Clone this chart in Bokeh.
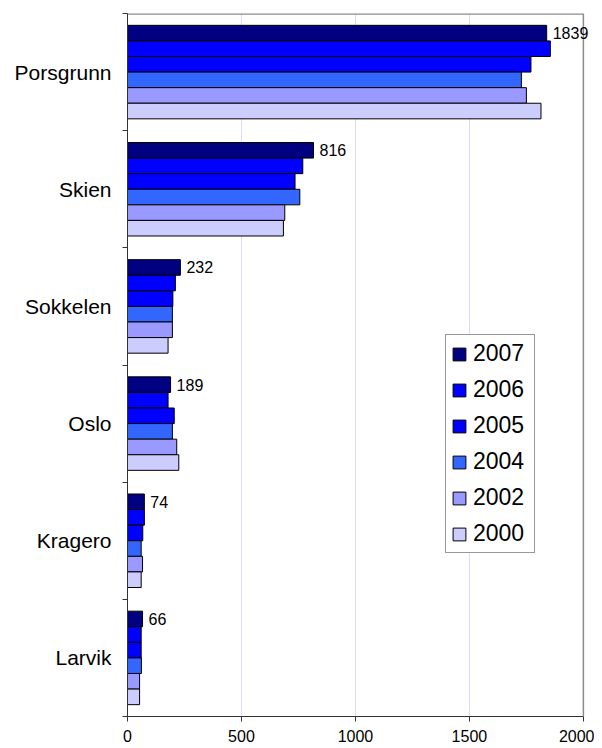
from bokeh.plotting import figure
from bokeh.models import ColumnDataSource, FixedTicker, Legend, LegendItem, Range1d, Label, Span
from bokeh.transform import dodge
from bokeh.embed import file_html
from bokeh.resources import INLINE

# ---- data ----
categories = ["Porsgrunn", "Skien", "Sokkelen", "Oslo", "Kragero", "Larvik"]
years = ["2007", "2006", "2005", "2004", "2002", "2000"]
v2007 = [1839, 816, 232, 189, 74, 66]
v2006 = [1855, 769, 210, 178, 74, 60]
v2005 = [1770, 735, 199, 205, 67, 60]
v2004 = [1728, 756, 197, 197, 60, 61]
v2002 = [1750, 690, 197, 216, 66, 53]
v2000 = [1814, 684, 178, 225, 60, 53]
x_ticks = [0, 500, 1000, 1500, 2000]

series = {"2007": v2007, "2006": v2006, "2005": v2005,
          "2004": v2004, "2002": v2002, "2000": v2000}
colors = {"2007": "#000080", "2006": "#0000FF", "2005": "#0000FF",
          "2004": "#3366FF", "2002": "#9999FF", "2000": "#CCCCFF"}

n = len(categories)
pos = [n - 0.5 - i for i in range(n)]  # category centres, first category on top
x_max = x_ticks[-1]

h = 0.133
data = dict(pos=pos, cat=categories)
for yr in years:
    data["v" + yr] = series[yr]
source = ColumnDataSource(data)

FONT = "Liberation Sans"

# the frame is a little wider than the axis (0..2000) so that the "1839"
# label is not clipped; the plot border at 2000 is drawn explicitly
p = figure(width=594, height=746, output_backend="svg", toolbar_location=None,
           x_range=Range1d(0, 2040), y_range=Range1d(0, n),
           min_border_left=127, min_border_right=2, min_border_top=13,
           min_border_bottom=30)
p.outline_line_color = None

# plot-area border (top and right) in grey
p.segment(x0=[0], x1=[x_max], y0=[n], y1=[n], line_color="#8C8C8C", line_width=2.5)
p.add_layout(Span(location=x_max, dimension="height", line_color="#8C8C8C",
                  line_width=1.5))

items = []
for k, yr in enumerate(years):
    off = (2.5 - k) * h
    r = p.hbar(y=dodge("pos", off), left=0, right="v" + yr, height=h,
               source=source, fill_color=colors[yr], line_color="black",
               line_width=1)
    items.append(LegendItem(label=yr, renderers=[r]))

# value labels on the 2007 bars
for v, c in zip(v2007, pos):
    p.add_layout(Label(x=v, y=c + 2.5 * h, text=str(v), x_offset=6,
                       text_baseline="middle", text_align="left",
                       text_font=FONT, text_font_size="16px",
                       text_color="black"))

# axes
p.xaxis.ticker = FixedTicker(ticks=x_ticks)
p.xaxis.bounds = (0, x_max)
p.xaxis.major_tick_out = 5
p.xaxis.major_tick_in = 0
p.xaxis.minor_tick_line_color = None
p.xaxis.major_label_text_font = FONT
p.xaxis.major_label_text_font_size = "16px"
p.xaxis.major_label_text_color = "black"
p.xaxis.major_label_standoff = 8
p.xaxis.axis_line_color = "#333333"
p.xaxis.major_tick_line_color = "#333333"

p.yaxis.ticker = FixedTicker(ticks=pos, minor_ticks=list(range(n + 1)))
p.yaxis.major_label_overrides = {pc: c for pc, c in zip(pos, categories)}
p.yaxis.major_tick_out = 0
p.yaxis.major_tick_in = 0
p.yaxis.minor_tick_out = 5
p.yaxis.minor_tick_in = 0
p.yaxis.minor_tick_line_color = "#333333"
p.yaxis.axis_line_color = "#333333"
p.yaxis.major_label_text_font = FONT
p.yaxis.major_label_text_font_size = "21px"
p.yaxis.major_label_text_color = "black"
p.yaxis.major_label_standoff = 11

# grid
p.xgrid.ticker = FixedTicker(ticks=x_ticks[1:-1])
p.xgrid.grid_line_color = "#DCDCFA"
p.xgrid.grid_line_width = 1
p.ygrid.grid_line_color = None

legend = Legend(items=items, location=(318, 163), orientation="vertical",
                label_text_font=FONT, label_text_font_size="23px",
                label_text_color="black", glyph_width=16, glyph_height=16,
                label_height=22, label_width=56, label_standoff=6,
                spacing=9, padding=5,
                border_line_color="#333333", border_line_width=1,
                background_fill_color="white", background_fill_alpha=1,
                margin=0)
p.add_layout(legend, "center")

open("out.html", "w").write(file_html(p, INLINE))
